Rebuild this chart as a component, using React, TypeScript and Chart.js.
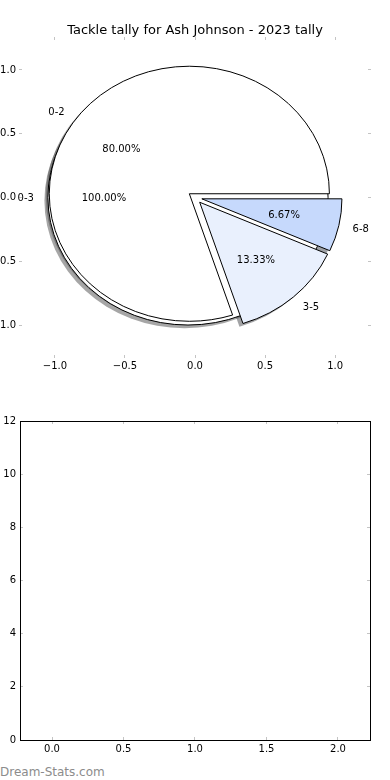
import React, { useEffect, useRef } from 'react';
import { Chart, registerables } from 'chart.js';

Chart.register(...registerables);

const TITLE = 'Tackle tally for Ash Johnson - 2023 tally';
const WATERMARK = 'Dream-Stats.com';

// Pie drawn first (single wedge, 100%)
const backLabels = ['0-3'];
const backValues = [15];
const backExplode = [0.05];
const backColors = ['#ffffff'];

// Pie drawn on top of it
const frontLabels = ['0-2', '3-5', '6-8'];
const frontValues = [12, 2, 1];
const frontExplode = [0.05, 0.05, 0.05];
const frontColors = ['#ffffff', '#e9f0fd', '#c6d9fc'];

// Tick labels
const pieTicks = [-1, -0.5, 0, 0.5, 1];
const barXTicks = [0, 0.5, 1, 1.5, 2];
const barYTicks = [0, 2, 4, 6, 8, 10, 12];

const FONT = 'DejaVu Sans';
const DEG = Math.PI / 180;
const SHADOW = 0.025;

type Pie = { labels: string[]; values: number[]; explode: number[]; colors: string[] };
const pies: Pie[] = [
  { labels: backLabels, values: backValues, explode: backExplode, colors: backColors },
  { labels: frontLabels, values: frontValues, explode: frontExplode, colors: frontColors },
];

function wedges(p: Pie) {
  const total = p.values.reduce((a, b) => a + b, 0);
  let theta = 0;
  return p.values.map((v, i) => {
    const frac = v / total;
    const t1 = theta;
    const t2 = theta + 360 * frac;
    theta = t2;
    const tm = ((t1 + t2) / 2) * DEG;
    const e = p.explode[i] || 0;
    return {
      t1, t2, tm, frac,
      cx: e * Math.cos(tm),
      cy: e * Math.sin(tm),
      label: p.labels[i],
      color: p.colors[i],
    };
  });
}

function shade(hex: string) {
  const n = parseInt(hex.slice(1), 16);
  const r = Math.round(((n >> 16) & 255) * 0.3);
  const g = Math.round(((n >> 8) & 255) * 0.3);
  const b = Math.round((n & 255) * 0.3);
  return `rgba(${r},${g},${b},0.5)`;
}

const piePlugin = {
  id: 'piePlugin',
  afterDatasetsDraw(chart: any) {
    const { ctx } = chart;
    const xs = chart.scales.x;
    const ys = chart.scales.y;
    const X = (v: number) => xs.getPixelForValue(v);
    const Y = (v: number) => ys.getPixelForValue(v);
    const rx = X(1) - X(0);
    const ry = Y(0) - Y(1);
    const all = pies.map(wedges);
    const flat = all.flat();
    const path = (w: any, dx: number, dy: number) => {
      const px = X(w.cx + dx);
      const py = Y(w.cy + dy);
      ctx.beginPath();
      if (w.t2 - w.t1 >= 359.999) {
        ctx.ellipse(px, py, rx, ry, 0, 0, Math.PI * 2);
      } else {
        ctx.moveTo(px, py);
        ctx.ellipse(px, py, rx, ry, 0, -w.t1 * DEG, -w.t2 * DEG, true);
        ctx.closePath();
      }
    };
    ctx.save();
    flat.forEach((w) => {
      path(w, -SHADOW, -SHADOW);
      ctx.fillStyle = shade(w.color);
      ctx.fill();
    });
    flat.forEach((w) => {
      path(w, 0, 0);
      ctx.fillStyle = w.color;
      ctx.fill();
      ctx.lineWidth = 1;
      ctx.strokeStyle = '#000000';
      ctx.lineJoin = 'miter';
      ctx.stroke();
    });
    ctx.fillStyle = '#000000';
    ctx.font = `10px "${FONT}"`;
    ctx.textBaseline = 'middle';
    flat.forEach((w) => {
      const lx = w.cx + 1.1 * Math.cos(w.tm);
      const ly = w.cy + 1.1 * Math.sin(w.tm);
      ctx.textAlign = lx > 0 ? 'left' : 'right';
      ctx.fillText(w.label, X(lx), Y(ly) + 1);
      const tx = w.cx + 0.6 * Math.cos(w.tm);
      const ty = w.cy + 0.6 * Math.sin(w.tm);
      ctx.textAlign = 'center';
      ctx.fillText((w.frac * 100).toFixed(2) + '%', X(tx), Y(ty) + 1);
    });
    ctx.restore();
  },
};

const fmt1 = (v: number) => Number(v).toFixed(1).replace('-', '\u2212');
const fmt0 = (v: number) => String(Math.round(Number(v)));

function makeScale(opts: {
  pos: 'left' | 'right' | 'top' | 'bottom';
  min: number;
  max: number;
  ticks: number[];
  size: number;
  labels: boolean;
  tickLength: number;
  padding: number;
  border: boolean;
  format: (v: number) => string;
}) {
  const vertical = opts.pos === 'left' || opts.pos === 'right';
  return {
    type: 'linear',
    display: true,
    position: opts.pos,
    min: opts.min,
    max: opts.max,
    afterBuildTicks: (s: any) => {
      s.ticks = opts.ticks.map((v) => ({ value: v }));
    },
    afterFit: (s: any) => {
      if (vertical) s.width = opts.size;
      else s.height = opts.size;
    },
    grid: {
      display: true,
      drawOnChartArea: false,
      drawTicks: true,
      tickLength: opts.tickLength,
      color: '#c4c4c4',
      lineWidth: 1,
    },
    border: { display: opts.border, color: '#000000', width: 1 },
    ticks: {
      display: opts.labels,
      padding: opts.padding,
      font: { family: FONT, size: 10 },
      color: '#000000',
      autoSkip: false,
      maxRotation: 0,
      minRotation: 0,
      callback: (v: any) => opts.format(v),
    },
  };
}

function topConfig(): any {
  const lim = 1.235;
  return {
    type: 'scatter',
    data: { datasets: [] },
    plugins: [piePlugin],
    options: {
      responsive: false,
      animation: false,
      devicePixelRatio: 1,
      events: [],
      layout: { padding: 0 },
      plugins: {
        legend: { display: false },
        tooltip: { enabled: false },
        title: {
          display: true,
          fullSize: false,
          text: TITLE,
          color: '#000000',
          font: { family: FONT, size: 13, weight: 'normal', lineHeight: 1.2 },
          padding: { top: 22.5, bottom: 0 },
        },
      },
      scales: {
        x: makeScale({ pos: 'bottom', min: -lim, max: lim, ticks: pieTicks, size: 25, labels: true, tickLength: 3, padding: 2, border: false, format: fmt1 }),
        x2: makeScale({ pos: 'top', min: -lim, max: lim, ticks: pieTicks, size: 1.9, labels: false, tickLength: 3, padding: 0, border: false, format: fmt1 }),
        y: makeScale({ pos: 'left', min: -lim, max: lim, ticks: pieTicks, size: 42, labels: true, tickLength: 3, padding: 3, border: false, format: fmt1 }),
        y2: makeScale({ pos: 'right', min: -lim, max: lim, ticks: pieTicks, size: 22, labels: false, tickLength: 3, padding: 0, border: false, format: fmt1 }),
      },
    },
  };
}

function bottomConfig(): any {
  const xmin = -0.224;
  const xmax = 2.224;
  return {
    type: 'scatter',
    data: { datasets: [] },
    options: {
      responsive: false,
      animation: false,
      devicePixelRatio: 1,
      events: [],
      layout: { padding: 0 },
      plugins: { legend: { display: false }, tooltip: { enabled: false }, title: { display: false } },
      scales: {
        x: makeScale({ pos: 'bottom', min: xmin, max: xmax, ticks: barXTicks, size: 20, labels: true, tickLength: -3, padding: 6, border: true, format: fmt1 }),
        x2: makeScale({ pos: 'top', min: xmin, max: xmax, ticks: barXTicks, size: 21, labels: false, tickLength: -3, padding: 0, border: true, format: fmt1 }),
        y: makeScale({ pos: 'left', min: 0, max: 12, ticks: barYTicks, size: 40, labels: true, tickLength: -3, padding: 7, border: true, format: fmt0 }),
        y2: makeScale({ pos: 'right', min: 0, max: 12, ticks: barYTicks, size: 20, labels: false, tickLength: -3, padding: 0, border: true, format: fmt0 }),
      },
    },
  };
}

export default function App() {
  const topRef = useRef<HTMLCanvasElement>(null);
  const botRef = useRef<HTMLCanvasElement>(null);
  useEffect(() => {
    Chart.defaults.font.family = FONT;
    const top = new Chart(topRef.current as HTMLCanvasElement, topConfig());
    const bot = new Chart(botRef.current as HTMLCanvasElement, bottomConfig());
    return () => {
      top.destroy();
      bot.destroy();
    };
  }, []);
  return (
    <div>
      <canvas
        ref={topRef}
        width={410}
        height={380}
        style={{ position: 'absolute', left: -20, top: 0, width: 410, height: 380 }}
      />
      <canvas
        ref={botRef}
        width={410}
        height={360}
        style={{ position: 'absolute', left: -20, top: 400, width: 410, height: 360 }}
      />
      <div
        style={{
          position: 'absolute',
          left: 0,
          top: 766,
          font: `12px "${FONT}"`,
          lineHeight: '12px',
          color: '#8c8c8c',
          whiteSpace: 'nowrap',
        }}
      >
        {WATERMARK}
      </div>
    </div>
  );
}
